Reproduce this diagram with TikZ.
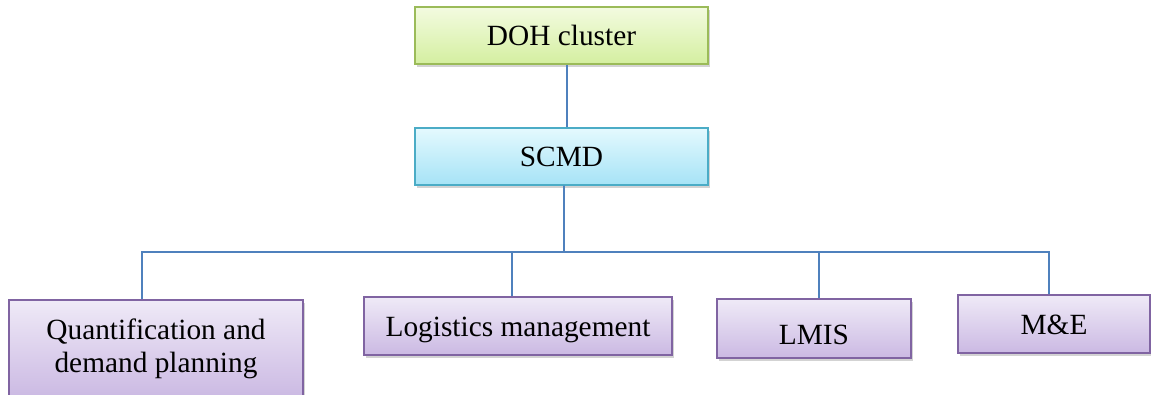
\documentclass[tikz,border=0pt]{standalone}
\usepackage{fontspec}
\setmainfont{Liberation Serif}
\usetikzlibrary{shadows}

\definecolor{greenline}{HTML}{9BBB59}
\definecolor{greentop}{HTML}{F3FBE0}
\definecolor{greenbot}{HTML}{D4EFA0}
\definecolor{blueline}{HTML}{4BACC6}
\definecolor{bluetop}{HTML}{E4F9FE}
\definecolor{bluebot}{HTML}{A6E3F6}
\definecolor{purpleline}{HTML}{8064A2}
\definecolor{purpletop}{HTML}{EFEAF7}
\definecolor{purplebot}{HTML}{CBB9E3}
\definecolor{linkblue}{HTML}{4F81BD}

\tikzset{
  box/.style={draw, line width=1pt, inner sep=0pt, align=center,
    font=\fontsize{22}{25}\selectfont,
    drop shadow={opacity=0.35, shadow xshift=1.5pt, shadow yshift=-2pt}},
  oneline/.style={text height=15pt, text depth=0pt},
  greenbox/.style={box, draw=greenline, top color=greentop, bottom color=greenbot},
  bluebox/.style={box, draw=blueline, top color=bluetop, bottom color=bluebot},
  purplebox/.style={box, draw=purpleline, top color=purpletop, bottom color=purplebot},
  link/.style={draw=linkblue, line width=1.2pt}
}

\begin{document}
\begin{tikzpicture}[x=0.75pt, y=-0.75pt]
  \useasboundingbox (0,0) rectangle (1151,395);

  % top of the chart
  \node[greenbox, oneline, minimum width=219.75pt, minimum height=42.75pt] (1) at (561.5,35.5) {DOH cluster};
  \node[bluebox, oneline, minimum width=219.75pt, minimum height=42.75pt] (2) at (561.5,156.5) {SCMD};

  % units under SCMD
  \node[purplebox, minimum width=220.5pt, minimum height=73.5pt] (3) at (156,349) {Quantification and\\demand planning};
  \node[purplebox, oneline, minimum width=231pt, minimum height=43.5pt] (4) at (518,326) {Logistics management};
  \node[purplebox, oneline, text height=24pt, minimum width=145.5pt, minimum height=44.25pt] (5) at (814,328.5) {LMIS};
  \node[purplebox, oneline, minimum width=144pt, minimum height=43.5pt] (6) at (1054,324) {M\&E};

  \coordinate (bus) at (564,252);

  \draw[link] ([xshift=4pt]1.south) -- ([xshift=4pt]2.north);
  \draw[link] ([xshift=1.9pt]2.south) -- (bus);
  \draw[link] ([xshift=-10.5pt]3.north) |- (bus);
  \draw[link] ([xshift=-4.5pt]4.north) |- (bus);
  \draw[link] ([xshift=3.75pt]5.north) |- (bus);
  \draw[link] ([xshift=-3.75pt]6.north) |- (bus);
\end{tikzpicture}
\end{document}
